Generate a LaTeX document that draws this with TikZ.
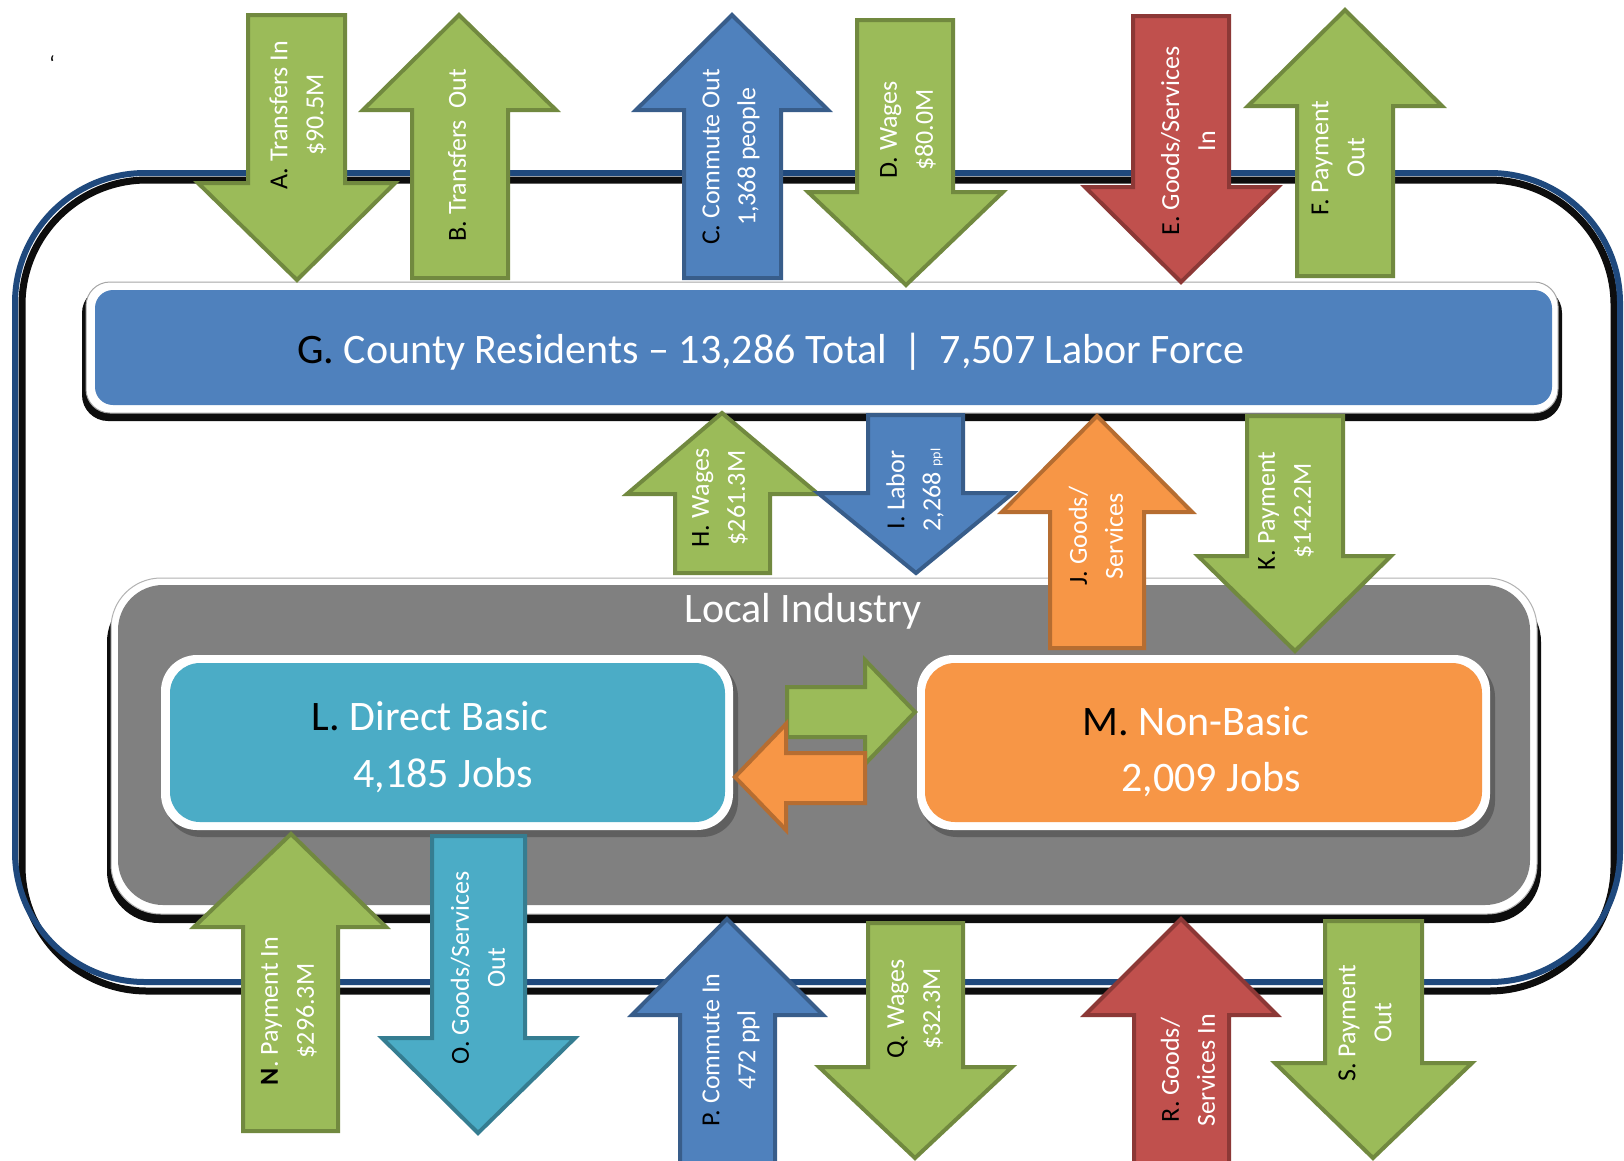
\documentclass[tikz,border=0pt]{standalone}
\usepackage{fontspec}
\setmainfont{Carlito}
\definecolor{grn}{HTML}{9BBB59}\definecolor{grnD}{HTML}{71893F}
\definecolor{blu}{HTML}{4F81BD}\definecolor{bluD}{HTML}{385D8A}
\definecolor{redA}{HTML}{C0504D}\definecolor{redD}{HTML}{8C3836}
\definecolor{org}{HTML}{F79646}\definecolor{orgD}{HTML}{B66D31}
\definecolor{cyn}{HTML}{4BACC6}\definecolor{cynD}{HTML}{357D91}
\definecolor{frameblue}{HTML}{1F497D}
\definecolor{shadowblk}{HTML}{0D0D0D}
\definecolor{gry}{HTML}{808080}
\newcommand{\myarrow}[9]{\draw[#1] (#2,#4) -- (#3,#4) -- (#3,#5) -- (#7,#5) -- (#8,#9) -- (#6,#5) -- (#2,#5) -- cycle;}
\newcommand{\lt}[1]{\textcolor{black}{#1}}
\tikzset{
  arr/.style={line width=4pt, line join=miter, miter limit=10},
  ga/.style={arr, fill=grn, draw=grnD},
  ba/.style={arr, fill=blu, draw=bluD},
  ra/.style={arr, fill=redA, draw=redD},
  oa/.style={arr, fill=org, draw=orgD},
  ca/.style={arr, fill=cyn, draw=cynD},
  lbl/.style={text=white, align=center, rotate=90, inner sep=0pt, font=\fontsize{26}{36}\selectfont},
  big/.style={text=white, inner sep=0pt, font=\fontsize{42}{50}\selectfont}
}
\begin{document}
\begin{tikzpicture}[x=1pt,y=-1pt]
\useasboundingbox[fill=white] (0,0) rectangle (1624,1160);
% stray mark
\node[inner sep=0pt, font=\fontsize{22}{22}\selectfont] (tick) at (52,64) {`};
% outer frame
\draw[line width=7pt, shadowblk, rounded corners=125pt] (22,180) rectangle (1614,991);
\draw[line width=6pt, frameblue, rounded corners=130pt] (15,173) rectangle (1620,982);
% G box
\fill[shadowblk, rounded corners=26pt] (82,287) rectangle (1562,421);
\filldraw[fill=white, draw=gray!70, line width=1pt, rounded corners=24pt] (86,282) rectangle (1558,413);
\fill[blu, rounded corners=18pt] (95,290) rectangle (1552,405);
\node[big] (G) at (771,352) {\lt{G.} County Residents -- 13,286 Total \,|\, 7,507 Labor Force};
% Local industry box
\fill[shadowblk, rounded corners=52pt] (107,590) rectangle (1541,923);
\filldraw[fill=white, draw=gray!60, line width=1pt, rounded corners=50pt] (111,578) rectangle (1537,914);
\fill[gry, rounded corners=45pt] (118,585) rectangle (1530,905);
\node[big] (LI) at (803,611) {Local Industry};
% L box
\fill[black, opacity=0.25, rounded corners=36pt] (165,661) rectangle (738,837);
\fill[white, rounded corners=36pt] (161,655) rectangle (733,830);
\fill[cyn, rounded corners=30pt] (170,663) rectangle (725,822);
\node[big] (L1) at (430,716) {\lt{L.} Direct Basic};
\node[big] (L2) at (443,776) {4,185 Jobs};
% M box
\fill[black, opacity=0.25, rounded corners=36pt] (921,661) rectangle (1495,837);
\fill[white, rounded corners=36pt] (917,655) rectangle (1490,830);
\fill[org, rounded corners=30pt] (925,663) rectangle (1482,822);
\node[big] (M1) at (1196,721) {\lt{M.} Non-Basic};
\node[big] (M2) at (1211,780) {2,009 Jobs};
% horizontal arrows
\draw[ga] (787,687) -- (865,687) -- (865,660) -- (915,712) -- (865,764) -- (865,737) -- (787,737) -- cycle;
\draw[oa] (865,753) -- (786,753) -- (786,724) -- (735,777) -- (786,830) -- (786,803) -- (865,803) -- cycle;
% top arrows
\myarrow{ga}{248}{345}{15}{183}{198}{395}{297}{280}
\myarrow{ga}{412}{508}{278}{110}{363}{556}{459}{15}
\myarrow{ba}{684}{781}{278}{110}{636}{828}{732}{15}
\myarrow{ga}{857}{953}{20}{192}{808}{1003}{906}{285}
\myarrow{ra}{1133}{1229}{16}{187}{1085}{1278}{1181}{282}
\myarrow{ga}{1297}{1393}{276}{106}{1248}{1442}{1345}{10}
% middle arrows
\myarrow{ga}{675}{770}{573}{494}{627}{818}{722}{413}
\myarrow{ba}{868}{963}{415}{493}{818}{1013}{916}{573}
\myarrow{oa}{1050}{1144}{648}{512}{1002}{1192}{1097}{416}
\myarrow{ga}{1247}{1343}{416}{556}{1198}{1391}{1295}{651}
% bottom arrows
\myarrow{ga}{243}{338}{1131}{927}{194}{386}{291}{834}
\myarrow{ca}{432}{525}{836}{1038}{382}{575}{478}{1133}
\myarrow{ba}{680}{775}{1172}{1015}{632}{823}{727}{919}
\myarrow{ga}{868}{963}{923}{1067}{819}{1012}{915}{1158}
\myarrow{ra}{1134}{1229}{1172}{1015}{1085}{1277}{1181}{919}
\myarrow{ga}{1325}{1422}{921}{1063}{1275}{1472}{1373}{1158}
% labels
\node[lbl] (tA) at (298,115) {\lt{A.} Transfers In\\\$90.5M};
\node[lbl] (tB) at (457,155) {\lt{B.} Transfers\ \ Out};
\node[lbl] (tC) at (731,157) {\lt{C.} Commute Out\\1,368 people};
\node[lbl] (tD) at (908,130) {\lt{D.} Wages\\\$80.0M};
\node[lbl] (tE) at (1188,141) {\lt{E.} Goods/Services\\In};
\node[lbl] (tF) at (1338,158) {\lt{F.} Payment\\Out};
\node[lbl] (tH) at (720,498) {\lt{H.} Wages\\\$261.3M};
\node[lbl] (tI) at (915,490) {\lt{I.} Labor\\2,268 {\fontsize{14}{14}\selectfont ppl}};
\node[lbl] (tJ) at (1096,536) {\lt{J.} Goods/\\Services};
\node[lbl] (tK) at (1286,511) {\lt{K.} Payment\\\$142.2M};
\node[lbl] (tN) at (289,1011) {\lt{\textbf{N}}. Payment In\\\$296.3M};
\node[lbl] (tO) at (478,968) {\lt{O.} Goods/Services\\Out};
\node[lbl] (tP) at (731,1050) {\lt{P.} Commute In\\472 ppl};
\node[lbl] (tQ) at (915,1009) {\lt{Q.} Wages\\\$32.3M};
\node[lbl] (tR) at (1188,1070) {\lt{R.} Goods/\\Services In};
\node[lbl] (tS) at (1365,1023) {\lt{S.} Payment\\Out};
\end{tikzpicture}
\end{document}
